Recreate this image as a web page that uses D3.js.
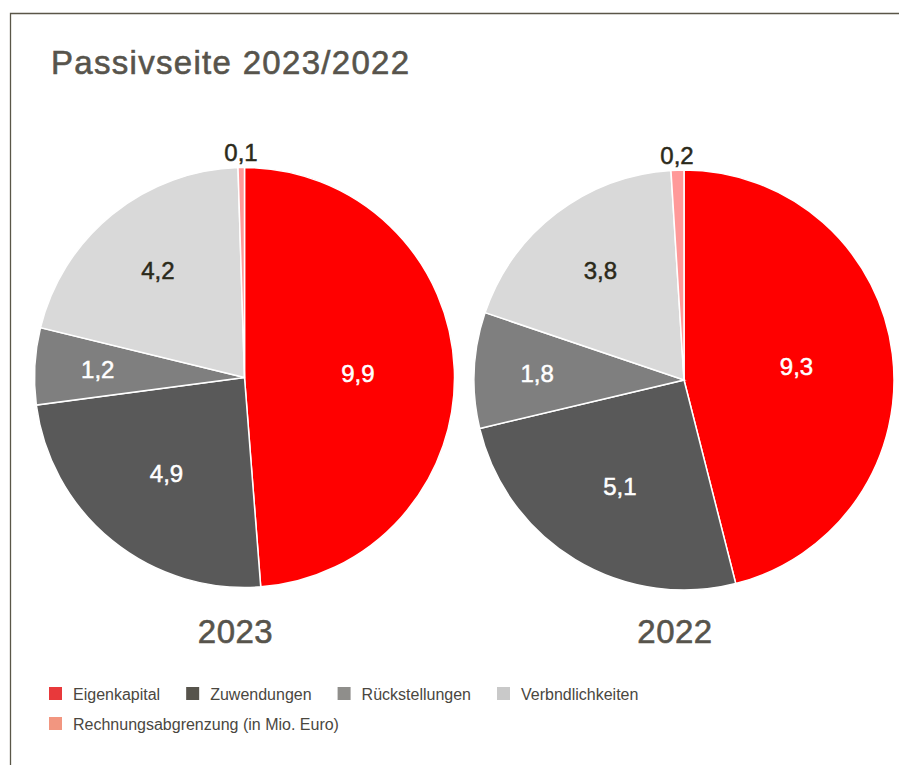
<!DOCTYPE html>
<html>
<head>
<meta charset="utf-8">
<style>
  body { margin: 0; background: #fff; }
  text { font-family: "Liberation Sans", Arial, Helvetica, sans-serif; }
</style>
</head>
<body>
<script src="https://d3js.org/d3.v7.min.js"></script>
<svg width="899" height="765"></svg>
<script type="text/javascript">
    // Data (Mio. Euro)
    var categories = ["Eigenkapital", "Zuwendungen", "Rückstellungen", "Verbndlichkeiten", "Rechnungsabgrenzung"];
    var values2023 = [9.9, 4.9, 1.2, 4.2, 0.1];
    var values2022 = [9.3, 5.1, 1.8, 3.8, 0.2];
    var years = ["2023", "2022"];
    var legendLabels = ["Eigenkapital", "Zuwendungen", "Rückstellungen", "Verbndlichkeiten", "Rechnungsabgrenzung (in Mio. Euro)"];

    var sliceColors = ["#ff0000", "#595959", "#7f7f7f", "#d9d9d9", "#ff9999"];
    var legendColors = ["#e8393b", "#57544c", "#8f8e8b", "#c9c9c9", "#f29680"];
    var labelColors = ["#fff", "#fff", "#fff", "#2b2a1a", "#2b2a1a"];
    // how far out (fraction of radius) each value label sits
    var labelRadius = [0.54, 0.59, 0.70, 0.655, 1.07];

    var svg = d3.select("svg");

    // frame
    svg.append("path")
        .attr("d", "M10.5,765 V13.5 H899")
        .attr("fill", "none")
        .attr("stroke", "#5a5648")
        .attr("stroke-width", 1.3);

    svg.append("text")
        .attr("x", 51)
        .attr("y", 74)
        .style("font-size", "33px")
        .style("letter-spacing", "1.3px")
        .attr("fill", "#57544c")
        .attr("stroke", "#57544c")
        .attr("stroke-width", 0.6)
        .text("Passivseite 2023/2022");

    var colour = d3.scaleOrdinal().domain(categories).range(sliceColors);
    var textColour = d3.scaleOrdinal().domain(categories).range(labelColors);
    var fmt = function(v) { return d3.format(".1f")(v).replace(".", ","); };

    var pie = d3.pie().sort(null).value(function(d) { return d.value; });
    var r = 210;
    var arc = d3.arc().innerRadius(0).outerRadius(r);

    var pies = [
        {year: years[0], values: values2023, cx: 244.5, cy: 377.5},
        {year: years[1], values: values2022, cx: 684, cy: 380}
    ];

    pies.forEach(function(p) {
        var rows = categories.map(function(c, i) { return {cat: c, value: p.values[i], idx: i}; });
        var g = svg.append("g").attr("transform", "translate(" + p.cx + "," + p.cy + ")");
        var slices = pie(rows);

        g.selectAll(".slice").data(slices).enter()
            .append("path")
            .attr("class", "slice")
            .attr("d", arc)
            .attr("fill", function(d) { return colour(d.data.cat); })
            .attr("stroke", "#fff")
            .attr("stroke-width", 1.5);

        g.selectAll(".lbl").data(slices).enter()
            .append("text")
            .attr("class", "lbl")
            .attr("transform", function(d) {
                var k = labelRadius[d.data.idx] * r;
                var c = d3.arc().innerRadius(k).outerRadius(k).centroid(d);
                return "translate(" + c[0] + "," + c[1] + ")";
            })
            .attr("dy", "0.36em")
            .attr("text-anchor", "middle")
            .style("font-size", "24px")
            .attr("fill", function(d) { return textColour(d.data.cat); })
            .attr("stroke", function(d) { return textColour(d.data.cat); })
            .attr("stroke-width", 0.5)
            .text(function(d) { return fmt(d.data.value); });

        svg.append("text")
            .attr("x", p.cx - 9)
            .attr("y", 643)
            .attr("text-anchor", "middle")
            .style("font-size", "33px")
            .style("letter-spacing", "0.5px")
            .attr("fill", "#57544c")
            .attr("stroke", "#57544c")
            .attr("stroke-width", 0.6)
            .text(p.year);
    });

    // legend
    var legend = svg.append("g").attr("transform", "translate(49,687)");
    var lx = 0, ly = 0;
    legendLabels.forEach(function(l, i) {
        if (i === 4) { lx = 0; ly = 30; }
        var item = legend.append("g").attr("transform", "translate(" + lx + "," + ly + ")");
        item.append("rect")
            .attr("width", 13).attr("height", 13)
            .attr("fill", legendColors[i]);
        var t = item.append("text")
            .attr("x", 24)
            .attr("y", 13)
            .style("font-size", "16px")
            .attr("fill", "#4a473f")
            .text(l);
        lx += 24 + t.node().getComputedTextLength() + 26;
    });
</script>
</body>
</html>
